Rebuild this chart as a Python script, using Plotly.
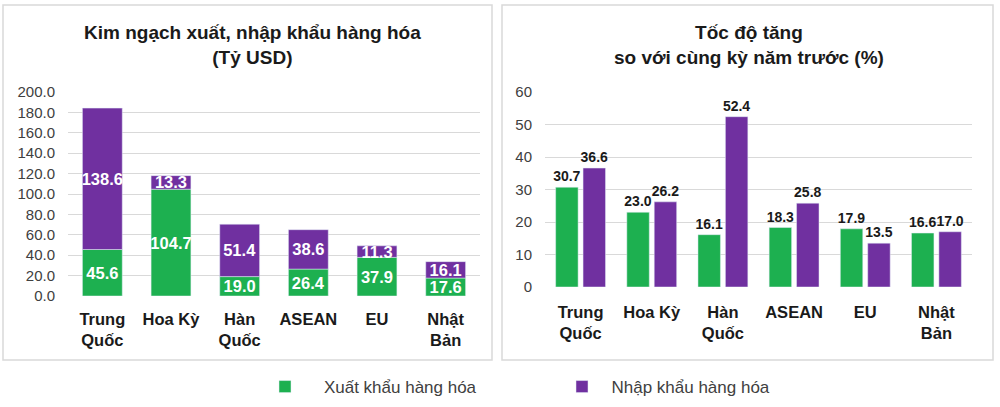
import plotly.graph_objects as go

categories = ["Trung<br>Quốc", "Hoa Kỳ", "Hàn<br>Quốc", "ASEAN", "EU", "Nhật<br>Bản"]
export_value = [45.6, 104.7, 19.0, 26.4, 37.9, 17.6]
import_value = [138.6, 13.3, 51.4, 38.6, 11.3, 16.1]
export_growth = [30.7, 23.0, 16.1, 18.3, 17.9, 16.6]
import_growth = [36.6, 26.2, 52.4, 25.8, 13.5, 17.0]

left_title = "<b>Kim ngạch xuất, nhập khẩu hàng hóa<br>(Tỷ USD)</b>"
right_title = "<b>Tốc độ tăng<br>so với cùng kỳ năm trước (%)</b>"
export_name = "Xuất khẩu hàng hóa"
import_name = "Nhập khẩu hàng hóa"

GREEN = "#1DB050"
PURPLE = "#7030A0"
FONT = "Liberation Sans"
NB = "\u00a0"

W, H = 1000, 407

fig = go.Figure()

# Left: stacked values
fig.add_trace(go.Bar(
    x=categories, y=export_value, name=NB * 4 + export_name,
    marker=dict(color=GREEN), width=0.58, offsetgroup="L",
    text=[f"{v:.1f}" for v in export_value], textposition="inside",
    insidetextanchor="middle", constraintext="none", textangle=0,
    textfont=dict(family=FONT, size=16.5, color="white", weight="bold"),
    xaxis="x", yaxis="y", legend="legend", showlegend=True, hoverinfo="skip",
))
fig.add_trace(go.Bar(
    x=categories, y=import_value, base=export_value, name=import_name,
    marker=dict(color=PURPLE), width=0.58, offsetgroup="L",
    text=[f"{v:.1f}" for v in import_value], textposition="inside",
    insidetextanchor="middle", constraintext="none", textangle=0,
    textfont=dict(family=FONT, size=16.5, color="white", weight="bold"),
    xaxis="x", yaxis="y", showlegend=False, hoverinfo="skip",
))

# Right: grouped growth
fig.add_trace(go.Bar(
    x=categories, y=export_growth, name=export_name,
    marker=dict(color=GREEN),
    text=[f"{v:.1f}" for v in export_growth], textposition="outside",
    constraintext="none", cliponaxis=False, textangle=0,
    textfont=dict(family=FONT, size=14, color="#1a1a1a", weight="bold"),
    xaxis="x2", yaxis="y2", showlegend=False, hoverinfo="skip",
))
fig.add_trace(go.Bar(
    x=categories, y=import_growth, name=NB * 2 + import_name,
    marker=dict(color=PURPLE),
    text=[f"{v:.1f}" for v in import_growth], textposition="outside",
    constraintext="none", cliponaxis=False, textangle=0,
    textfont=dict(family=FONT, size=14, color="#1a1a1a", weight="bold"),
    xaxis="x2", yaxis="y2", legend="legend2", showlegend=True, hoverinfo="skip",
))

def px(x):
    return x / W

def py(y):
    return 1 - y / H

tickfont_cat = dict(family=FONT, size=16.5, color="#1a1a1a", weight="bold")
tickfont_val = dict(family=FONT, size=15, color="#404040")

fig.update_layout(
    width=W, height=H,
    margin=dict(l=0, r=0, t=0, b=0, autoexpand=False),
    paper_bgcolor="white", plot_bgcolor="rgba(0,0,0,0)",
    barmode="group", bargap=0.23, bargroupgap=0.18,
    font=dict(family=FONT),
    xaxis=dict(domain=[px(68), px(480)], anchor="y", tickfont=tickfont_cat,
               ticks="outside", ticklen=8, tickcolor="rgba(0,0,0,0)",
               showgrid=False, showline=False, fixedrange=True, automargin=False),
    yaxis=dict(domain=[py(296), py(92)], anchor="x", range=[0, 200], dtick=20,
               tickformat=".1f", tickfont=tickfont_val, showgrid=True,
               gridcolor="#d9d9d9", gridwidth=1, zeroline=False, showline=False,
               ticks="", ticklabelstandoff=12, fixedrange=True, automargin=False),
    xaxis2=dict(domain=[px(545), px(972)], anchor="y2", tickfont=tickfont_cat,
                ticks="outside", ticklen=10, tickcolor="rgba(0,0,0,0)",
                showgrid=False, showline=False, fixedrange=True, automargin=False),
    yaxis2=dict(domain=[py(287), py(92)], anchor="x2", range=[0, 60], dtick=10,
                tickfont=tickfont_val, showgrid=True, gridcolor="#d9d9d9",
                gridwidth=1, zeroline=False, showline=False, ticks="",
                ticklabelstandoff=12, fixedrange=True, automargin=False),
    legend=dict(x=px(265), y=py(387), xanchor="left", yanchor="middle",
                orientation="h", font=dict(family=FONT, size=17, color="#404040"),
                bgcolor="rgba(0,0,0,0)", itemwidth=30),
    legend2=dict(x=px(562), y=py(387), xanchor="left", yanchor="middle",
                 orientation="h", font=dict(family=FONT, size=17, color="#404040"),
                 bgcolor="rgba(0,0,0,0)", itemwidth=30),
    shapes=[
        dict(type="rect", xref="paper", yref="paper", x0=px(3), x1=px(492),
             y0=py(360), y1=py(5), line=dict(color="#d9d9d9", width=1.5),
             fillcolor="rgba(0,0,0,0)", layer="below"),
        dict(type="rect", xref="paper", yref="paper", x0=px(502), x1=px(993),
             y0=py(360), y1=py(5), line=dict(color="#d9d9d9", width=1.5),
             fillcolor="rgba(0,0,0,0)", layer="below"),
    ],
    annotations=[
        dict(text=left_title, xref="paper", yref="paper", x=px(252), y=py(45),
             xanchor="center", yanchor="middle", showarrow=False,
             font=dict(family=FONT, size=19, color="#1a1a1a")),
        dict(text=right_title, xref="paper", yref="paper", x=px(749), y=py(45),
             xanchor="center", yanchor="middle", showarrow=False,
             font=dict(family=FONT, size=19, color="#1a1a1a")),
    ],
)

fig.write_html("out.html", config={"displayModeBar": False},
               post_script="document.body.style.margin='0';")
